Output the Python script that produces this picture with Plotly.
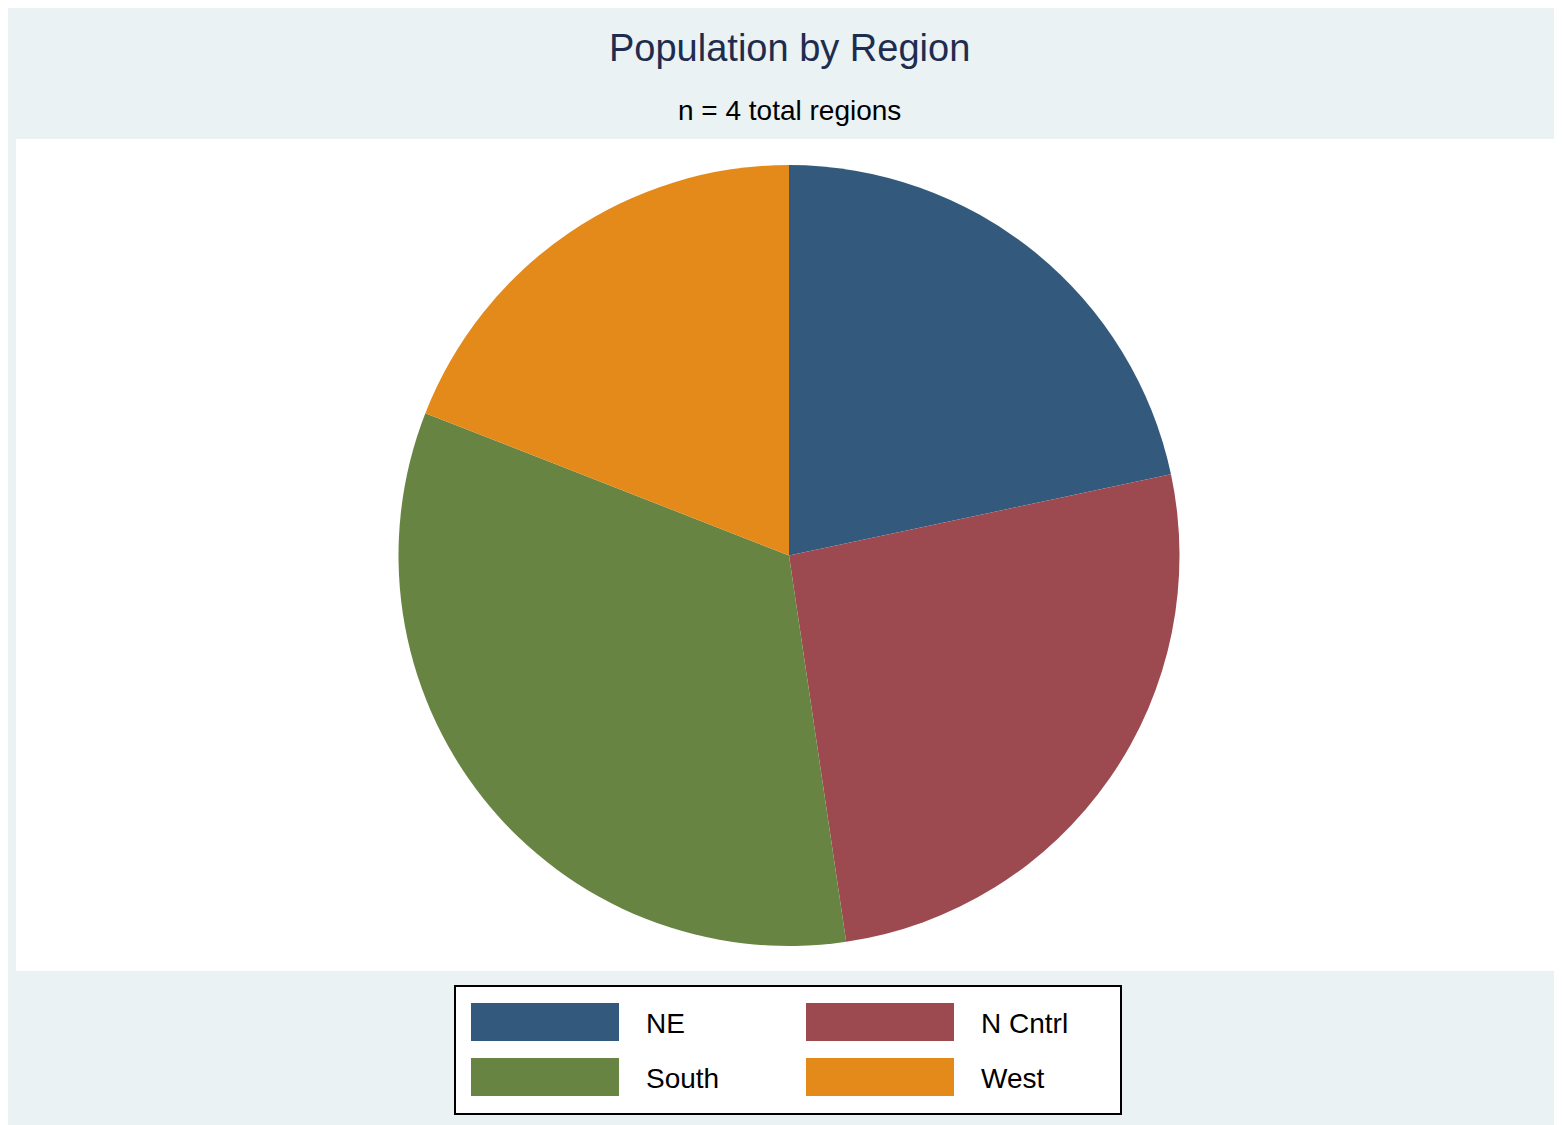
import plotly.graph_objects as go

regions = ["NE", "N Cntrl", "South", "West"]
population = [49.1, 58.9, 75.4, 43.2]
colors = ["#335A7D", "#9C4A50", "#688443", "#E48A1A"]

W, H = 1562, 1125
def px(x): return x / W
def py(y): return 1 - y / H

fig = go.Figure(go.Pie(
    labels=regions, values=population, sort=False, direction="clockwise",
    rotation=0, textinfo="none", hoverinfo="label+value",
    marker=dict(colors=colors, line=dict(width=0)),
    domain=dict(x=[0, 1], y=[py(938), py(157)]), showlegend=False,
))

shapes = [dict(type="rect", xref="paper", yref="paper", x0=px(8), x1=px(1553),
               y0=py(963), y1=py(131), fillcolor="white", line=dict(width=0), layer="below"),
          dict(type="rect", xref="paper", yref="paper", x0=px(447), x1=px(1113),
               y0=py(1106), y1=py(978), fillcolor="white", line=dict(color="black", width=2))]
annotations = [
    dict(text="Population by Region", x=0.5, y=py(40), xref="paper", yref="paper",
         showarrow=False, font=dict(size=38, color="#1E2D4F"), yanchor="middle"),
    dict(text="n = 4 total regions", x=0.5, y=py(102), xref="paper", yref="paper",
         showarrow=False, font=dict(size=28, color="black"), yanchor="middle"),
]
pos = [(463, 995), (798, 995), (463, 1050), (798, 1050)]
for (x, y), lab, c in zip(pos, regions, colors):
    shapes.append(dict(type="rect", xref="paper", yref="paper", x0=px(x), x1=px(x + 148),
                       y0=py(y + 38), y1=py(y), fillcolor=c, line=dict(width=0)))
    annotations.append(dict(text=lab, x=px(x + 173), y=py(y + 20), xref="paper", yref="paper",
                            showarrow=False, xanchor="left", yanchor="middle",
                            font=dict(size=28, color="black")))

fig.update_layout(width=W, height=H, margin=dict(l=0, r=0, t=0, b=0),
                  paper_bgcolor="#EAF2F3", font=dict(family="Liberation Sans, Arial"),
                  shapes=shapes, annotations=annotations)
fig.write_html("out.html")
